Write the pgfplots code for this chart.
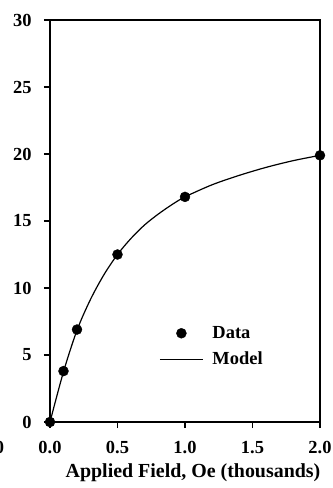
\documentclass[border=0pt]{standalone}
\usepackage{fontspec}
\setmainfont{Liberation Serif}
\usepackage{pgfplots}
\pgfplotsset{compat=1.18}
\begin{document}
\begin{tikzpicture}
\path[use as bounding box] (-50bp,-66bp) rectangle (283bp,422bp);
\begin{axis}[
  at={(0,0)}, anchor=south west,
  scale only axis, width=270bp, height=402bp,
  xmin=0, xmax=2, ymin=0, ymax=30,
  clip=false,
  axis line style={line width=1.3bp},
  every tick/.style={line width=1.3bp, black},
  tick align=outside, major tick length=6bp,
  xtick pos=bottom, ytick pos=left,
  xtick={0,0.5,1,1.5,2}, ytick={0,5,10,15,20,25,30},
  /pgf/number format/assume math mode=true,
  xticklabel style={/pgf/number format/.cd, fixed, fixed zerofill, precision=1, /tikz/.cd, yshift=-10bp},
  yticklabel style={xshift=-9bp},
  ticklabel style={font=\bfseries\fontsize{18.5}{20}\selectfont},
  xlabel={Applied Field, Oe (thousands)},
  xlabel style={font=\bfseries\fontsize{20}{22}\selectfont, xshift=8bp, yshift=-3bp},
  legend style={draw=none, fill=none, at={(0.393,0.248)}, anchor=north west,
    font=\bfseries\fontsize{18.5}{20}\selectfont, row sep=8bp},
  legend cell align=left,
  legend image code/.code={\draw[mark repeat=2,mark phase=2,#1] plot coordinates {(0bp,0bp) (21.5bp,0bp) (43bp,0bp)};\path (50bp,0bp);},
]
\addplot[only marks, mark=*, mark size=5bp, black] coordinates {
  (0,0) (0.1,3.8) (0.2,6.9) (0.5,12.5) (1.0,16.8) (2.0,19.9)
};
\addlegendentry{Data}
\addplot[black, line width=1.2bp, smooth, no marks] coordinates {
  (0,0) (0.1,3.75) (0.2,6.85) (0.3,9.15) (0.4,11.0) (0.5,12.5) (0.6,13.7)
  (0.7,14.7) (0.8,15.5) (0.9,16.2) (1.0,16.8) (1.2,17.7) (1.4,18.4)
  (1.6,19.0) (1.8,19.5) (2.0,19.9)
};
\addlegendentry{Model}
\node[font=\bfseries\fontsize{18.5}{20}\selectfont, anchor=base] at (rel axis cs:-0.187,-0.078) {0};
\end{axis}
\end{tikzpicture}
\end{document}
